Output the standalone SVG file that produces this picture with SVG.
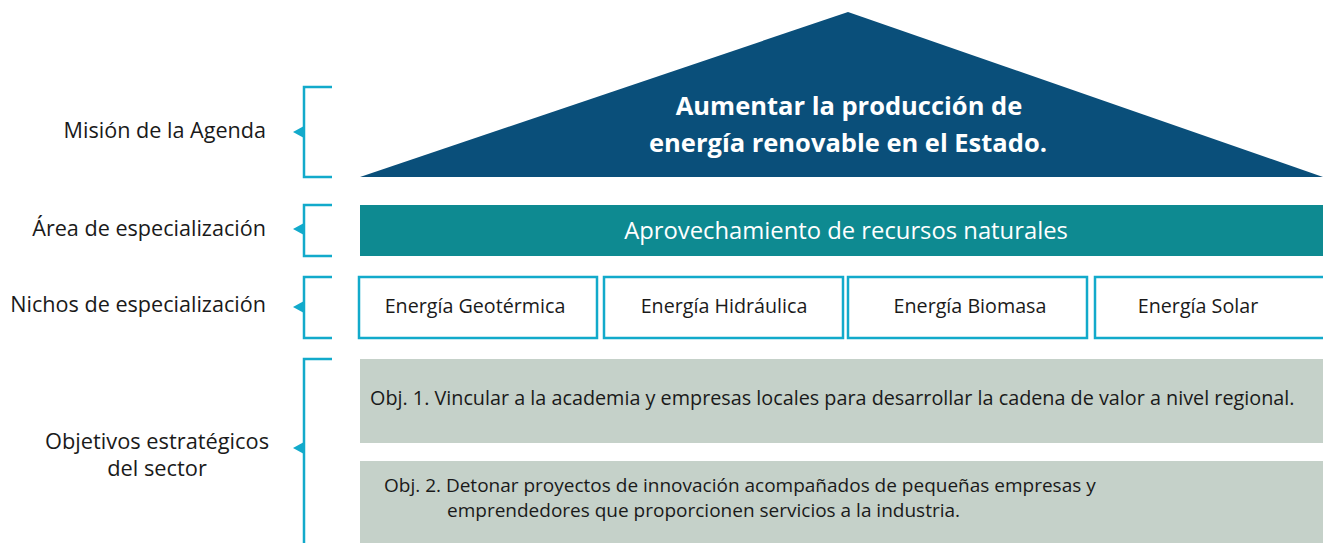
<svg xmlns="http://www.w3.org/2000/svg" width="1323" height="543" viewBox="0 0 1323 543">
<style>
text{font-family:"Open Sans","Noto Sans",sans-serif;fill:#1a1a1a}
.lbl{font-size:21.6px;text-anchor:end}
.lblc{font-size:21.8px;text-anchor:middle}
.br{fill:none;stroke:#12aacb;stroke-width:2.5}
.tri{fill:#12aacb}
.niche{fill:#fff;stroke:#12aacb;stroke-width:2.5}
.nt{font-size:19.7px;text-anchor:middle}
.obj{fill:#c5d1c9}
.ot{font-size:19.8px}
.ot2{font-size:19px}
</style>
<g id="labels">
<text class="lbl" x="266" y="138">Misión de la Agenda</text>
<text class="lbl" x="266" y="236">Área de especialización</text>
<text class="lbl" x="266" y="312">Nichos de especialización</text>
<text class="lblc" x="157" y="449">Objetivos estratégicos</text>
<text class="lblc" x="157" y="476">del sector</text>
</g>
<g id="connectors">
<path class="br" d="M332,87 H304 V177 H332"/>
<polygon class="tri" points="293,132 304,126 304,138"/>
<path class="br" d="M332,205 H304 V256 H332"/>
<polygon class="tri" points="293,229 304,223 304,235"/>
<path class="br" d="M332,277 H304 V338 H332"/>
<polygon class="tri" points="293,307 304,301 304,313"/>
<path class="br" d="M332,359 H304 V543"/>
<polygon class="tri" points="293,448 304,442 304,454"/>
</g>
<g id="mision">
<polygon points="848,12 360,177 1323,177" fill="#0a4f7a"/>
<text x="849" y="115" font-size="25.5" font-weight="bold" text-anchor="middle" style="fill:#fff">Aumentar la producción de</text>
<text x="848" y="152" font-size="25.5" font-weight="bold" text-anchor="middle" style="fill:#fff">energía renovable en el Estado.</text>
</g>
<g id="area">
<rect x="360" y="205" width="963" height="51" fill="#0e8a91"/>
<text x="846" y="239" font-size="23.8" text-anchor="middle" style="fill:#fff">Aprovechamiento de recursos naturales</text>
</g>
<g id="nicho1"><rect class="niche" x="359" y="277" width="238" height="61"/><text class="nt" x="475" y="313">Energía Geotérmica</text></g>
<g id="nicho2"><rect class="niche" x="604" y="277" width="239" height="61"/><text class="nt" x="724" y="313">Energía Hidráulica</text></g>
<g id="nicho3"><rect class="niche" x="848" y="277" width="239" height="61"/><text class="nt" x="970" y="313">Energía Biomasa</text></g>
<g id="nicho4"><rect class="niche" x="1095" y="277" width="240" height="61"/><text class="nt" x="1198" y="313">Energía Solar</text></g>
<g id="obj1"><rect class="obj" x="360" y="359" width="963" height="84"/><text class="ot" x="370" y="405">Obj. 1. Vincular a la academia y empresas locales para desarrollar la cadena de valor a nivel regional.</text></g>
<g id="obj2"><rect class="obj" x="360" y="461" width="963" height="82"/><text class="ot2" x="384" y="492">Obj. 2. Detonar proyectos de innovación acompañados de pequeñas empresas y</text><text class="ot2" x="447" y="517">emprendedores que proporcionen servicios a la industria.</text></g>
</svg>
